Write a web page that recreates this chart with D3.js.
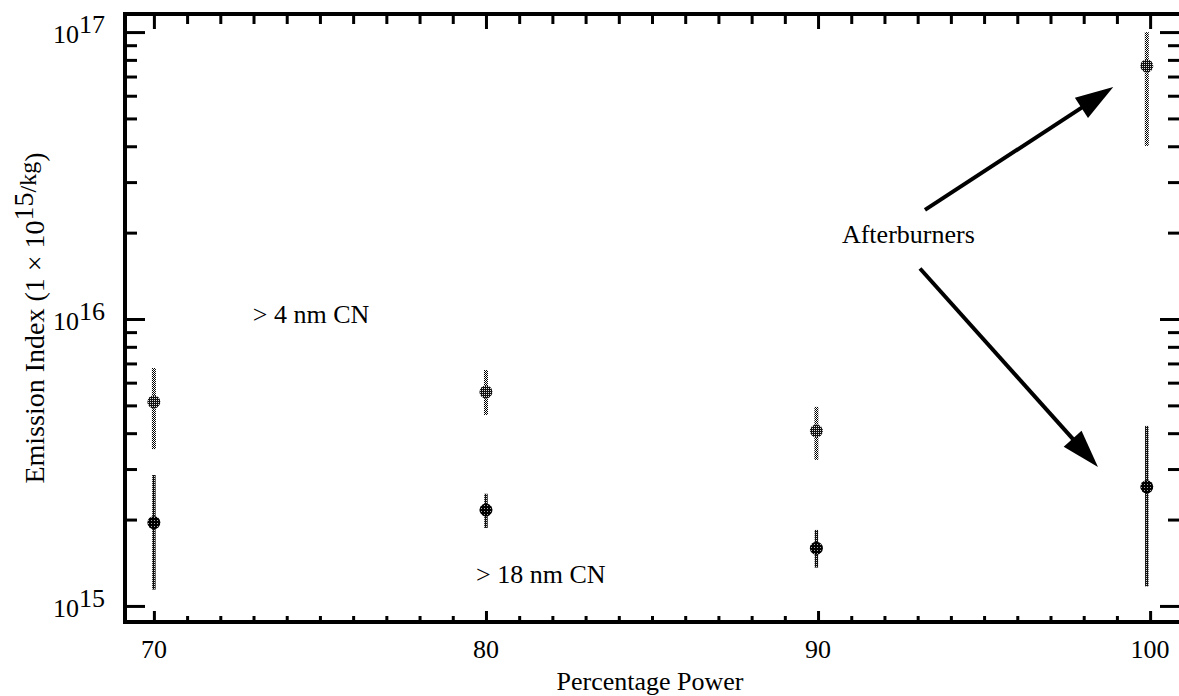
<!DOCTYPE html>
<html><head><meta charset="utf-8">
<script src="https://cdn.jsdelivr.net/npm/d3@7"></script>
<style>body{margin:0;background:#fff} svg text{font-family:"Liberation Serif","Times New Roman",Times,"DejaVu Serif",serif;}</style>
</head><body><svg id="c" width="1179" height="696"></svg>
<script>
// ---- data ----
const powers = [70, 80, 89.95, 99.9];
const cn4 = [5.14e15, 5.57e15, 4.07e15, 7.62e16];
const cn4Lo = [3.52e15, 4.63e15, 3.23e15, 4.01e16];
const cn4Hi = [6.75e15, 6.64e15, 4.94e15, 1.0e17];
const cn18 = [1.95e15, 2.16e15, 1.59e15, 2.60e15];
const cn18Lo = [1.14e15, 1.87e15, 1.36e15, 1.17e15];
const cn18Hi = [2.86e15, 2.46e15, 1.84e15, 4.24e15];
const xTickValues = [70, 80, 90, 100];
const yTickExponents = [15, 16, 17];
const textLabels = [
  {text: "> 4 nm CN", x: 72.98, y: 9.68e15},
  {text: "> 18 nm CN", x: 79.70, y: 1.20e15},
  {text: "Afterburners", x: 90.72, y: 1.84e16}
];
const arrowsData = [
  {x1: 93.22, y1: 2.40e16, x2: 98.89, y2: 6.43e16},
  {x1: 93.07, y1: 1.50e16, x2: 98.43, y2: 3.05e15}
];

// ---- layout ----
const L = 125, R = 1181, T = 14, B = 622;
const svg = d3.select("#c");

const x = d3.scaleLinear().domain([69.13, 100.93]).range([L, R]);
const y = d3.scaleLog().domain([Math.pow(10, 14.944), Math.pow(10, 17.063)]).range([B, T]);

// patterns
const defs = svg.append("defs");
function pattern(id, size, bg, dots) {
  const p = defs.append("pattern").attr("id", id).attr("width", size).attr("height", size).attr("patternUnits", "userSpaceOnUse");
  p.append("rect").attr("width", size).attr("height", size).attr("fill", bg);
  dots.forEach(([dx, dy, c]) => p.append("rect").attr("x", dx).attr("y", dy).attr("width", 1).attr("height", 1).attr("fill", c));
}
pattern("light", 2, "#fff", [[0, 0, "#000"], [1, 1, "#000"]]);
pattern("mid", 2, "#111", [[0, 0, "#ddd"]]);
pattern("dark", 3, "#000", [[1, 1, "#aaa"]]);

// minor ticks
const xMinor = d3.range(71, 100).filter(v => v % 10 !== 0);
const yMinor = [];
[15, 16].forEach(e => { for (let k = 2; k <= 9; k++) yMinor.push(k * Math.pow(10, e)); });
const yMajor = yTickExponents.map(e => Math.pow(10, e));

function styleAxis(g) {
  g.select(".domain").remove();
  g.selectAll("line").attr("stroke", "#000").attr("stroke-width", 3);
  g.selectAll("text").remove();
}
svg.append("g").attr("transform", `translate(0,${B})`).call(d3.axisBottom(x).tickValues(xTickValues).tickSize(-11)).call(styleAxis);
svg.append("g").attr("transform", `translate(0,${B})`).call(d3.axisBottom(x).tickValues(xMinor).tickSize(-6)).call(styleAxis);
svg.append("g").attr("transform", `translate(0,${T})`).call(d3.axisTop(x).tickValues(xTickValues).tickSize(-15)).call(styleAxis);
svg.append("g").attr("transform", `translate(0,${T})`).call(d3.axisTop(x).tickValues(xMinor).tickSize(-10)).call(styleAxis);
svg.append("g").attr("transform", `translate(${L},0)`).call(d3.axisLeft(y).tickValues(yMajor).tickSize(-20)).call(styleAxis);
svg.append("g").attr("transform", `translate(${L},0)`).call(d3.axisLeft(y).tickValues(yMinor).tickSize(-12)).call(styleAxis);
svg.append("g").attr("transform", `translate(${R},0)`).call(d3.axisRight(y).tickValues(yMajor).tickSize(-21)).call(styleAxis);
svg.append("g").attr("transform", `translate(${R},0)`).call(d3.axisRight(y).tickValues(yMinor).tickSize(-13)).call(styleAxis);

svg.append("rect").attr("x", L).attr("y", T).attr("width", R - L).attr("height", B - T)
  .attr("fill", "none").attr("stroke", "#000").attr("stroke-width", 4);

// x tick labels
svg.append("g").selectAll("text").data(xTickValues).join("text")
  .attr("x", d => x(d)).attr("y", 658).attr("text-anchor", "middle")
  .attr("font-size", 26).text(d => d);

// y tick labels
const yl = svg.append("g").selectAll("text").data(yTickExponents).join("text")
  .attr("x", 105).attr("y", d => y(Math.pow(10, d)) + 11).attr("text-anchor", "end")
  .attr("font-size", 26);
yl.append("tspan").text("10");
yl.append("tspan").attr("dy", -10).text(d => d);

// axis titles
svg.append("text").attr("x", (L + 1175) / 2).attr("y", 690).attr("text-anchor", "middle")
  .attr("font-size", 26).text("Percentage Power");

const yt = svg.append("text").attr("transform", `translate(44,${(T + B) / 2}) rotate(-90)`)
  .attr("text-anchor", "middle").attr("font-size", 28);
yt.append("tspan").text("Emission Index (1 × 10");
yt.append("tspan").attr("dy", -11).text("15");
yt.append("tspan").attr("font-size", 24).attr("dy", 3).text("/kg");
yt.append("tspan").attr("dy", 8).text(")");

// series
function drawSeries(vals, lo, hi, barFill, dotFill, r, w) {
  const g = svg.append("g");
  g.selectAll("line").data(powers).join("line")
    .attr("x1", d => x(d)).attr("x2", d => x(d))
    .attr("y1", (d, i) => y(lo[i])).attr("y2", (d, i) => y(hi[i]))
    .attr("stroke", barFill).attr("stroke-width", w);
  g.selectAll("circle").data(powers).join("circle")
    .attr("cx", d => x(d)).attr("cy", (d, i) => y(vals[i])).attr("r", r)
    .attr("fill", dotFill);
}
drawSeries(cn4, cn4Lo, cn4Hi, "url(#light)", "url(#mid)", 6.5, 4);
drawSeries(cn18, cn18Lo, cn18Hi, "url(#mid)", "url(#dark)", 6.5, 3.5);

// text labels
svg.append("g").selectAll("text").data(textLabels).join("text")
  .attr("x", d => x(d.x)).attr("y", d => y(d.y))
  .attr("font-size", 26).text(d => d.text);

// arrows
const ag = svg.append("g");
arrowsData.forEach(a => {
  const X1 = x(a.x1), Y1 = y(a.y1), X2 = x(a.x2), Y2 = y(a.y2);
  const dx = X2 - X1, dy = Y2 - Y1, len = Math.hypot(dx, dy);
  const ux = dx / len, uy = dy / len;
  const hl = 38, hw = 12;
  const bx = X2 - ux * hl, by = Y2 - uy * hl;
  ag.append("line").attr("x1", X1).attr("y1", Y1).attr("x2", bx + ux * 4).attr("y2", by + uy * 4)
    .attr("stroke", "#000").attr("stroke-width", 4);
  ag.append("path").attr("d", `M${X2},${Y2}L${bx - uy * hw},${by + ux * hw}L${bx + uy * hw},${by - ux * hw}Z`)
    .attr("fill", "#000");
});
</script></body></html>
